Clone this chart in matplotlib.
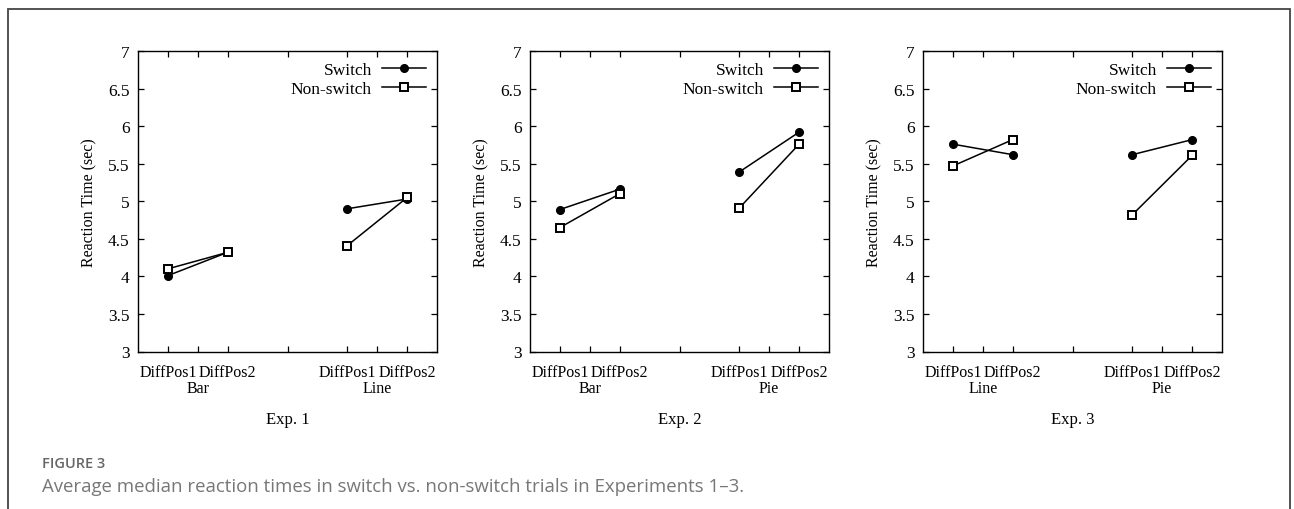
import matplotlib
matplotlib.use("Agg")
import matplotlib.pyplot as plt
from matplotlib.patches import Rectangle

# x positions of the conditions on each panel (gnuplot-like layout)
positions = [1, 3, 7, 9]
tick_pos = [1, 2, 3, 5, 7, 8, 9]

exp_titles = ["Exp. 1", "Exp. 2", "Exp. 3"]
groups = [["Bar", "Line"], ["Bar", "Pie"], ["Line", "Pie"]]

# reaction times: [group1 DiffPos1, group1 DiffPos2, group2 DiffPos1, group2 DiffPos2]
switch_rt = [
    [4.01, 4.32, 4.90, 5.03],
    [4.89, 5.16, 5.39, 5.92],
    [5.76, 5.62, 5.62, 5.82],
]
nonswitch_rt = [
    [4.10, 4.32, 4.41, 5.05],
    [4.65, 5.10, 4.91, 5.76],
    [5.47, 5.82, 4.82, 5.61],
]

plt.rcParams['font.family'] = ['Liberation Serif', 'DejaVu Serif']
plt.rcParams['font.size'] = 11

W, H = 1294, 510
fig = plt.figure(figsize=(W / 100, H / 100), dpi=100)

# gray frame around the figure panel (open at the bottom)
fig.add_artist(Rectangle((7.5 / W, -0.1), (1290 - 7.5) / W, 1.1 - 9.5 / H,
                         transform=fig.transFigure, fill=False,
                         edgecolor='#444444', lw=1.3))

lefts = [138, 530, 923]
for i in range(3):
    ax = fig.add_axes([lefts[i] / W, 1 - 352.5 / H, 299 / W, 300.5 / H])
    x1 = positions[:2]
    x2 = positions[2:]
    ax.plot(x1, switch_rt[i][:2], color='black', lw=1.1, marker='o', ms=5.5,
            label='Switch')
    ax.plot(x2, switch_rt[i][2:], color='black', lw=1.1, marker='o', ms=5.5)
    ax.plot(x1, nonswitch_rt[i][:2], color='black', lw=1.1, marker='s', ms=5.5,
            mfc='white', mew=1.4, label='Non-switch')
    ax.plot(x2, nonswitch_rt[i][2:], color='black', lw=1.1, marker='s', ms=5.5,
            mfc='white', mew=1.4)

    ax.set_xlim(0, 10)
    ax.set_ylim(3, 7)
    ax.set_yticks([3, 3.5, 4, 4.5, 5, 5.5, 6, 6.5, 7])
    ax.set_yticklabels(['3', '3.5', '4', '4.5', '5', '5.5', '6', '6.5', '7'],
                       fontsize=12.5)
    ax.set_xticks(tick_pos)
    ax.set_xticklabels(['DiffPos1', '', 'DiffPos2', '',
                        'DiffPos1', '', 'DiffPos2'], fontsize=11.5)
    ax.tick_params(direction='in', length=4, width=0.9, top=True, right=True)
    ax.tick_params(axis='x', pad=9)
    ax.tick_params(axis='y', pad=6)
    for sp in ax.spines.values():
        sp.set_linewidth(1.0)
    ax.set_ylabel('Reaction Time (sec)', fontsize=11.5, labelpad=8)

    # group names under the DiffPos labels
    for gx, gname in zip([2, 8], groups[i]):
        ax.annotate(gname, xy=(gx, 3), xycoords='data',
                    xytext=(0, -36.5), textcoords='offset pixels',
                    ha='center', va='center', fontsize=11.5,
                    annotation_clip=False)

    leg = ax.legend(loc='upper right', frameon=False, markerfirst=False,
                    numpoints=1, handlelength=2.5, handletextpad=0.6,
                    labelspacing=0.15, borderaxespad=0.25, fontsize=12.5)
    for t in leg.get_texts():
        t.set_ha('right')

    fig.text((lefts[i] + 149.5) / W, 1 - 420 / H, exp_titles[i],
             ha='center', va='center', fontsize=12)

fig.text(42 / W, 1 - 464 / H, 'FIGURE 3', family='Open Sans', fontsize=10.5,
         fontweight='semibold', color='#666666', ha='left', va='center')
fig.text(42 / W, 1 - 487 / H,
         'Average median reaction times in switch vs. non-switch trials in Experiments 1\u20133.',
         family='Open Sans', fontsize=13.4, color='#777777', ha='left', va='center')

fig.savefig('out.png', dpi=100)
